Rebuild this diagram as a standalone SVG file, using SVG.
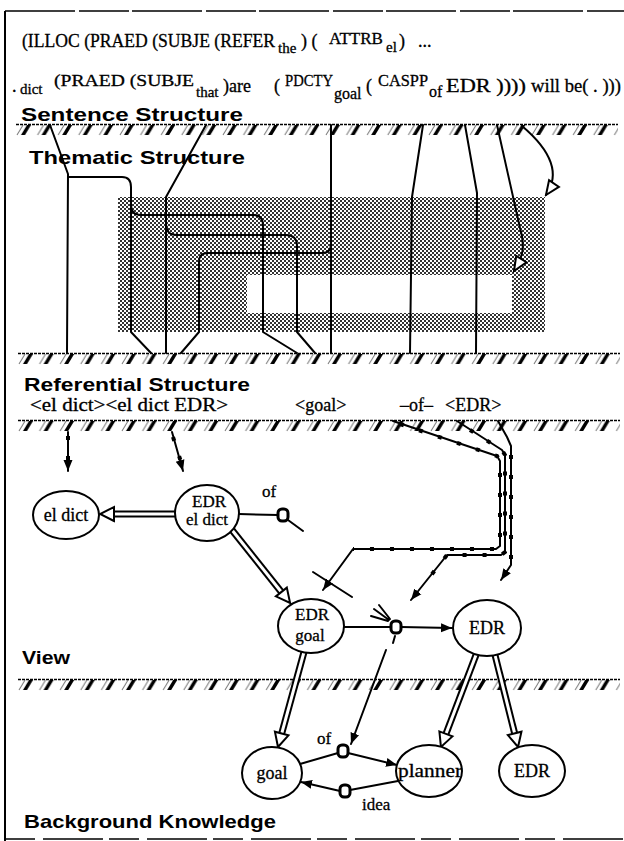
<svg xmlns="http://www.w3.org/2000/svg" width="624" height="841" viewBox="0 0 624 841">
<style>
.s{font-family:"Liberation Serif","DejaVu Serif","Times New Roman",serif;fill:#000;stroke:#000;stroke-width:0.3}
.b{font-family:"Liberation Sans",Arial,sans-serif;font-weight:bold;font-size:19px;fill:#000}
.ln{fill:none;stroke:#000;stroke-width:2;stroke-linejoin:round;stroke-linecap:round}
.nd{fill:#fff;stroke:#000;stroke-width:2}
.sq{fill:#fff;stroke:#000;stroke-width:3}
.dblo{fill:none;stroke:#000;stroke-width:7}
.dbli{fill:none;stroke:#fff;stroke-width:3}
.bead{fill:none;stroke:#000;stroke-width:4;stroke-dasharray:4 16}
.bt{stroke:#000;stroke-width:1.3;stroke-dasharray:3 1}
.fr{stroke:#000;fill:none}
</style>
<defs>
<pattern id="hatch" patternUnits="userSpaceOnUse" width="20.6" height="12">
<line x1="1" y1="11" x2="7" y2="1" stroke="#777" stroke-width="1"/>
<polygon points="5,11 9,11 15,1 11,1" fill="#000"/>
</pattern>
<pattern id="dots" patternUnits="userSpaceOnUse" width="4" height="4">
<rect width="2" height="2" fill="#333"/><rect x="2" y="2" width="2" height="2" fill="#333"/>
</pattern>
<g id="band"><rect x="0" y="1" width="602" height="11" fill="url(#hatch)"/><line class="bt" x1="0" y1="0.5" x2="602" y2="0.5"/></g>
<marker id="fa" viewBox="0 -5 12 10" refX="11" refY="0" markerWidth="12" markerHeight="10" markerUnits="userSpaceOnUse" orient="auto"><path d="M0,-4.5 L11,0 L0,4.5 z" fill="#000"/></marker>
<marker id="ha" viewBox="-2 -9 18 18" refX="6" refY="0" markerWidth="18" markerHeight="18" markerUnits="userSpaceOnUse" orient="auto"><path d="M0,-7 L14,0 L0,7 z" fill="#fff" stroke="#000" stroke-width="2"/></marker>
<marker id="oa" viewBox="-2 -8 18 16" refX="14" refY="0" markerWidth="18" markerHeight="16" markerUnits="userSpaceOnUse" orient="auto"><path d="M0,-6 L14,0 L0,6 z" fill="#fff" stroke="#000" stroke-width="2"/></marker>
</defs>
<rect width="624" height="841" fill="#fff"/>
<g id="frame">
<line class="fr" x1="5" y1="11" x2="624" y2="11" stroke-width="1.5" stroke-dasharray="70 4 50 3"/>
<line class="fr" x1="5" y1="11" x2="5" y2="841" stroke-width="2"/>
<line class="fr" x1="5" y1="839" x2="624" y2="839" stroke-width="1.5" stroke-dasharray="30 8 60 6"/>
</g>
<g id="header">
<text class="s" font-size="18" x="22" y="47" textLength="253" lengthAdjust="spacingAndGlyphs">(ILLOC (PRAED (SUBJE (REFER</text>
<text class="s" font-size="15" x="278" y="53">the</text>
<text class="s" font-size="18" x="301" y="47">) (</text>
<text class="s" font-size="17" x="329" y="44">ATTRB</text>
<text class="s" font-size="15" x="386" y="52">el</text>
<text class="s" font-size="18" x="399" y="47">)</text>
<text class="s" font-size="18" x="418" y="47">...</text>
<text class="s" font-size="18" x="12" y="92">.</text>
<text class="s" font-size="15" x="20" y="94">dict</text>
<text class="s" font-size="17" x="54" y="86" textLength="140" lengthAdjust="spacingAndGlyphs">(PRAED (SUBJE</text>
<text class="s" font-size="15" x="196" y="97">that</text>
<text class="s" font-size="18" x="223" y="92">)are</text>
<text class="s" font-size="18" x="274" y="92">(</text>
<text class="s" font-size="17" x="285" y="86" textLength="48" lengthAdjust="spacingAndGlyphs">PDCTY</text>
<text class="s" font-size="16" x="334" y="99">goal</text>
<text class="s" font-size="18" x="366" y="92">(</text>
<text class="s" font-size="17" x="378" y="86" textLength="50" lengthAdjust="spacingAndGlyphs">CASPP</text>
<text class="s" font-size="16" x="429" y="97">of</text>
<text class="s" font-size="18" x="446" y="92" textLength="80" lengthAdjust="spacingAndGlyphs">EDR ))))</text>
<text class="s" font-size="18" x="531" y="92" textLength="90" lengthAdjust="spacingAndGlyphs">will be( . )))</text>
</g>
<g id="layers">
<use href="#band" x="16" y="124"/>
<use href="#band" x="18" y="353"/>
<use href="#band" x="18" y="420"/>
<use href="#band" x="18" y="679"/>
<text class="b" x="21" y="121" textLength="222" lengthAdjust="spacingAndGlyphs">Sentence Structure</text>
<text class="b" x="29" y="164" textLength="216" lengthAdjust="spacingAndGlyphs">Thematic Structure</text>
<text class="b" x="24" y="391" textLength="226" lengthAdjust="spacingAndGlyphs">Referential Structure</text>
<text class="b" x="22" y="664" textLength="48" lengthAdjust="spacingAndGlyphs">View</text>
<text class="b" x="24" y="828" textLength="252" lengthAdjust="spacingAndGlyphs">Background Knowledge</text>
</g>
<g id="thematic-area">
<path d="M118,197 H545 V332 H118 Z M247,275 H512 V313 H247 Z" fill="url(#dots)" fill-rule="evenodd"/>
</g>
<g id="referents">
<text class="s" font-size="18" x="30" y="411" textLength="198" lengthAdjust="spacingAndGlyphs">&lt;el dict&gt;&lt;el dict EDR&gt;</text>
<text class="s" font-size="18" x="295" y="411">&lt;goal&gt;</text>
<text class="s" font-size="18" x="400" y="411">–of–</text>
<text class="s" font-size="18" x="445" y="411">&lt;EDR&gt;</text>
</g>
<g id="connectors">
<path class="ln" d="M206,125 L166,197 L166,353"/>
<path class="ln" d="M166,224 Q166,235 177,235 L286,235 Q297,235 297,246 L297,332 L315,353"/>
<path class="ln" d="M50,125 L68,174 L67,353"/>
<path class="ln" d="M68,177 L122,177 Q131,177 131,187 L131,332 L151,353"/>
<path class="ln" d="M131,205 Q131,215 141,215 L254,215 Q263,215 263,226 L263,332 L297,353"/>
<path class="ln" d="M331,125 L331,353"/>
<path class="ln" d="M331,244 Q331,253 322,253 L208,253 Q199,253 199,262 L199,332 L181,353"/>
<path class="ln" d="M423,125 L412,197 L410,353"/>
<path class="ln" d="M465,125 L477,193 L476,353"/>
<path class="ln" d="M497,125 L520,228 C526,248 522,258 514,271" marker-end="url(#oa)"/>
<path class="ln" d="M522,126 C548,148 562,172 546,195" marker-end="url(#oa)"/>
<path class="ln" d="M68,432 L68,471" marker-end="url(#fa)"/>
<path class="bead" d="M68,436 L68,463"/>
<path class="ln" d="M172,432 L183,471" marker-end="url(#fa)"/>
<path class="bead" d="M173,437 L181,462"/>
<path class="ln" d="M393,421 L497,456 L500,461 L500,546 L496,549 L353,549 L323,590" marker-end="url(#fa)"/>
<path class="ln" d="M457,421 L502,450 L505,455 L505,552 L501,555 L447,555 L411,600" marker-end="url(#fa)"/>
<path class="ln" d="M498,421 L507,437 L511,446 L511,565 L501,580" marker-end="url(#fa)"/>
<path class="bead" d="M400,424 L497,456 L500,461 L500,546 L496,549 L353,549"/>
<path class="bead" d="M470,430 L502,450 L505,455 L505,552 L501,555 L447,555 L425,583"/>
<path class="bead" d="M511,455 L511,565"/>
<path class="ln" d="M313,572 L352,597"/>
<path class="ln" d="M374,609 L389,620 M379,605 L390,619 M371,616 L388,621"/>
<path class="ln" d="M395,636 L393,643"/>
<path class="ln" d="M239,514 L278,515 M288,520 L303,531"/>
<path class="ln" d="M344,627 L391,627"/>
<path class="ln" d="M401,627 L452,628" marker-end="url(#fa)"/>
<path class="ln" d="M386,650 L351,744" marker-end="url(#fa)"/>
<path class="ln" d="M300,764 L338,753"/>
<path class="ln" d="M348,753 L397,765" marker-end="url(#fa)"/>
<path class="ln" d="M398,781 L350,790"/>
<path class="ln" d="M340,791 L301,782" marker-end="url(#fa)"/>
<g id="hollow-arrows">
<path class="dblo" d="M175,514 L108,514"/><path class="dbli" d="M175,514 L108,514" marker-end="url(#ha)"/>
<path class="dblo" d="M232,530 L285.1,596.7"/><path class="dbli" d="M232,530 L285.1,596.7" marker-end="url(#ha)"/>
<path class="dblo" d="M304,652 L280.1,739.3"/><path class="dbli" d="M304,652 L280.1,739.3" marker-end="url(#ha)"/>
<path class="dblo" d="M476,655 L443.8,739.5"/><path class="dbli" d="M476,655 L443.8,739.5" marker-end="url(#ha)"/>
<path class="dblo" d="M495,655 L516.1,739.2"/><path class="dbli" d="M495,655 L516.1,739.2" marker-end="url(#ha)"/>
</g>
</g>
<g id="n-eldict"><ellipse class="nd" cx="66" cy="515" rx="33" ry="24"/><text class="s" font-size="18" x="66" y="521" text-anchor="middle">el dict</text></g>
<g id="n-edr-eldict"><ellipse class="nd" cx="207" cy="513" rx="32" ry="28"/><text class="s" font-size="17" x="209" y="507" text-anchor="middle">EDR</text><text class="s" font-size="17" x="207" y="525" text-anchor="middle">el dict</text></g>
<g id="n-of1"><text class="s" font-size="17" x="262" y="497">of</text><rect class="sq" x="278" y="509" width="10" height="12" rx="4"/></g>
<g id="n-edr-goal"><ellipse class="nd" cx="311" cy="626" rx="33" ry="27"/><text class="s" font-size="17" x="312" y="620" text-anchor="middle">EDR</text><text class="s" font-size="17" x="310" y="641" text-anchor="middle">goal</text></g>
<g id="n-mid"><rect class="sq" x="391" y="621" width="10" height="12" rx="4"/></g>
<g id="n-edr"><ellipse class="nd" cx="487" cy="628" rx="34" ry="28"/><text class="s" font-size="18" x="487" y="634" text-anchor="middle">EDR</text></g>
<g id="n-goal"><ellipse class="nd" cx="272" cy="773" rx="30" ry="26"/><text class="s" font-size="18" x="272" y="779" text-anchor="middle">goal</text></g>
<g id="n-planner"><ellipse class="nd" cx="429" cy="771" rx="33" ry="26"/><text class="s" font-size="18" x="398" y="777" textLength="64" lengthAdjust="spacingAndGlyphs">planner</text></g>
<g id="n-edr-bg"><ellipse class="nd" cx="532" cy="771" rx="33" ry="26"/><text class="s" font-size="18" x="532" y="777" text-anchor="middle">EDR</text></g>
<g id="n-of2"><text class="s" font-size="17" x="317" y="744">of</text><rect class="sq" x="338" y="745" width="10" height="12" rx="4"/></g>
<g id="n-idea"><rect class="sq" x="340" y="785" width="10" height="12" rx="4"/><text class="s" font-size="17" x="362" y="810">idea</text></g>
</svg>
